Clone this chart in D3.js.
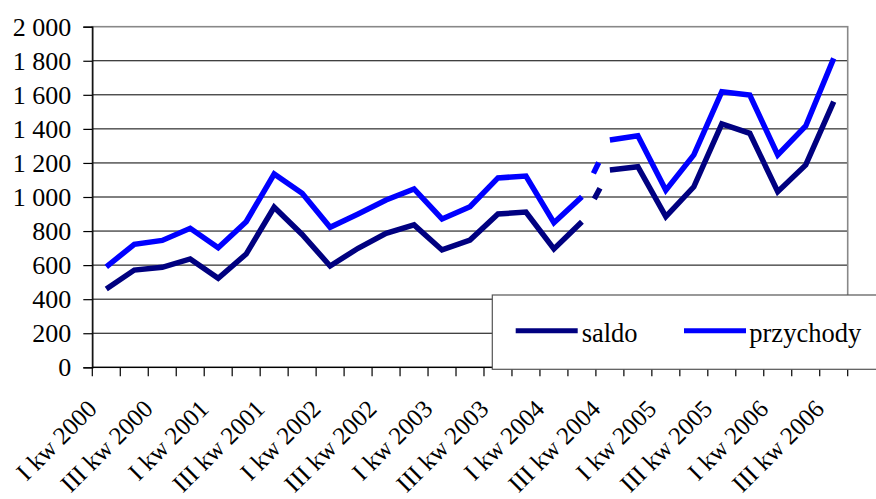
<!DOCTYPE html>
<html>
<head>
<meta charset="utf-8">
<script src="https://cdn.jsdelivr.net/npm/d3@7"></script>
<style>
  html, body { margin: 0; padding: 0; background: #fff; }
  svg { display: block; }
  svg text { font-family: "Liberation Serif", "Times New Roman", serif !important; }
</style>
</head>
<body>
<svg id="chart" width="876" height="499"></svg>
<script>
// Quarterly figures, 2000 Q1 – 2006 Q3
const categories = [
  "I kw 2000", "II kw 2000", "III kw 2000", "IV kw 2000",
  "I kw 2001", "II kw 2001", "III kw 2001", "IV kw 2001",
  "I kw 2002", "II kw 2002", "III kw 2002", "IV kw 2002",
  "I kw 2003", "II kw 2003", "III kw 2003", "IV kw 2003",
  "I kw 2004", "II kw 2004", "III kw 2004", "IV kw 2004",
  "I kw 2005", "II kw 2005", "III kw 2005", "IV kw 2005",
  "I kw 2006", "II kw 2006", "III kw 2006"
];
const saldo = [460, 571, 587, 636, 523, 665, 940, 780, 595, 699, 787, 836, 689, 747,
               900, 912, 695, 855, 1159, 1178, 885, 1060, 1429, 1374, 1031, 1188, 1560];
const przychody = [590, 722, 745, 816, 702, 855, 1135, 1022, 822, 900, 982, 1047, 871, 943,
                   1112, 1123, 849, 1002, 1335, 1360, 1040, 1247, 1618, 1599, 1247, 1417, 1814];
const yTicks = [0, 200, 400, 600, 800, 1000, 1200, 1400, 1600, 1800, 2000];
const xTickLabels = categories.filter((d, i) => i % 2 === 0);
// segment drawn dashed (break in the series)
const dashedFrom = "II kw 2004";
const dashedTo = "III kw 2004";

const seriesList = [
  { name: "saldo", values: saldo, color: "#000080" },
  { name: "przychody", values: przychody, color: "#0000ff" }
];

const svg = d3.select("#chart");
const plot = { left: 92.3, top: 26.7, right: 847.7, bottom: 367.3 };
const FONT = "'Liberation Serif', 'Times New Roman', serif";

const x = d3.scaleBand().domain(categories).range([plot.left, plot.right]).paddingInner(0).paddingOuter(0);
const y = d3.scaleLinear().domain([0, 2000]).range([plot.bottom, plot.top]);
const cx = d => x(d) + x.bandwidth() / 2;
const fmt = v => d3.format(",")(v).replace(/,/g, " ");

// gridlines
svg.append("g")
  .selectAll("line")
  .data(yTicks.filter(v => v > 0 && v < 2000))
  .join("line")
  .attr("x1", plot.left).attr("x2", plot.right)
  .attr("y1", d => y(d)).attr("y2", d => y(d))
  .attr("stroke", "#000").attr("stroke-width", 1);

// plot area border
svg.append("rect")
  .attr("x", plot.left).attr("y", plot.top)
  .attr("width", plot.right - plot.left).attr("height", plot.bottom - plot.top)
  .attr("fill", "none").attr("stroke", "#888").attr("stroke-width", 1.6);

// y axis
const yAxis = svg.append("g")
  .attr("transform", `translate(${plot.left},0)`)
  .call(d3.axisLeft(y).tickValues(yTicks).tickFormat(fmt).tickSize(9).tickPadding(12))
  .attr("font-family", FONT)
  .attr("font-size", 26);
yAxis.select(".domain").attr("stroke", "#000").attr("stroke-width", 1.3);
yAxis.selectAll(".tick line").attr("stroke", "#000").attr("stroke-width", 1.2);
yAxis.selectAll(".tick text").attr("fill", "#000").style("font-family", FONT).style("font-size", "26px");

// x axis: ticks at band boundaries
const boundaries = categories.map(d => x(d)).concat([plot.right]);
const xAxisG = svg.append("g");
xAxisG.append("line")
  .attr("x1", plot.left).attr("x2", plot.right)
  .attr("y1", plot.bottom).attr("y2", plot.bottom)
  .attr("stroke", "#000").attr("stroke-width", 1.3);
xAxisG.selectAll("line.tk")
  .data(boundaries)
  .join("line")
  .attr("class", "tk")
  .attr("x1", d => d).attr("x2", d => d)
  .attr("y1", plot.bottom).attr("y2", plot.bottom + 9)
  .attr("stroke", "#000").attr("stroke-width", 1.2);
xAxisG.selectAll("text")
  .data(xTickLabels)
  .join("text")
  .attr("transform", d => `translate(${cx(d) - 8},${plot.bottom + 43}) rotate(-45)`)
  .attr("text-anchor", "end")
  .style("font-family", FONT)
  .style("font-size", "25px")
  .attr("fill", "#000")
  .text(d => d);

// series lines
const line = d3.line()
  .x(d => cx(d.cat))
  .y(d => y(d.v));

const iFrom = categories.indexOf(dashedFrom);
const iTo = categories.indexOf(dashedTo);

seriesList.forEach(s => {
  const pts = categories.map((c, i) => ({ cat: c, v: s.values[i] }));
  const g = svg.append("g");
  [pts.slice(0, iFrom + 1), pts.slice(iTo)].forEach(part => {
    g.append("path")
      .attr("d", line(part))
      .attr("fill", "none")
      .attr("stroke", s.color)
      .attr("stroke-width", 5.5)
      .attr("stroke-linejoin", "miter")
      .attr("stroke-linecap", "butt");
  });
  g.append("path")
    .attr("d", line(pts.slice(iFrom, iTo + 1)))
    .attr("fill", "none")
    .attr("stroke", s.color)
    .attr("stroke-width", 5.5)
    .attr("stroke-linecap", "butt")
    .attr("stroke-dasharray", "0 26 12 200");
});

// legend
const legend = svg.append("g");
legend.append("rect")
  .attr("x", 492.3).attr("y", 295)
  .attr("width", 400).attr("height", 74.3)
  .attr("fill", "#fff").attr("stroke", "#555").attr("stroke-width", 1.2);
const legendItems = [
  { s: seriesList[0], x1: 515.7, x2: 577.7, tx: 581.7 },
  { s: seriesList[1], x1: 684, x2: 746, tx: 749.3 }
];
legendItems.forEach(it => {
  legend.append("line")
    .attr("x1", it.x1).attr("x2", it.x2)
    .attr("y1", 330.7).attr("y2", 330.7)
    .attr("stroke", it.s.color).attr("stroke-width", 5);
  legend.append("text")
    .attr("x", it.tx).attr("y", 341.5)
    .style("font-family", FONT)
    .style("font-size", "26.5px")
    .attr("fill", "#000")
    .text(it.s.name);
});
</script>
</body>
</html>
